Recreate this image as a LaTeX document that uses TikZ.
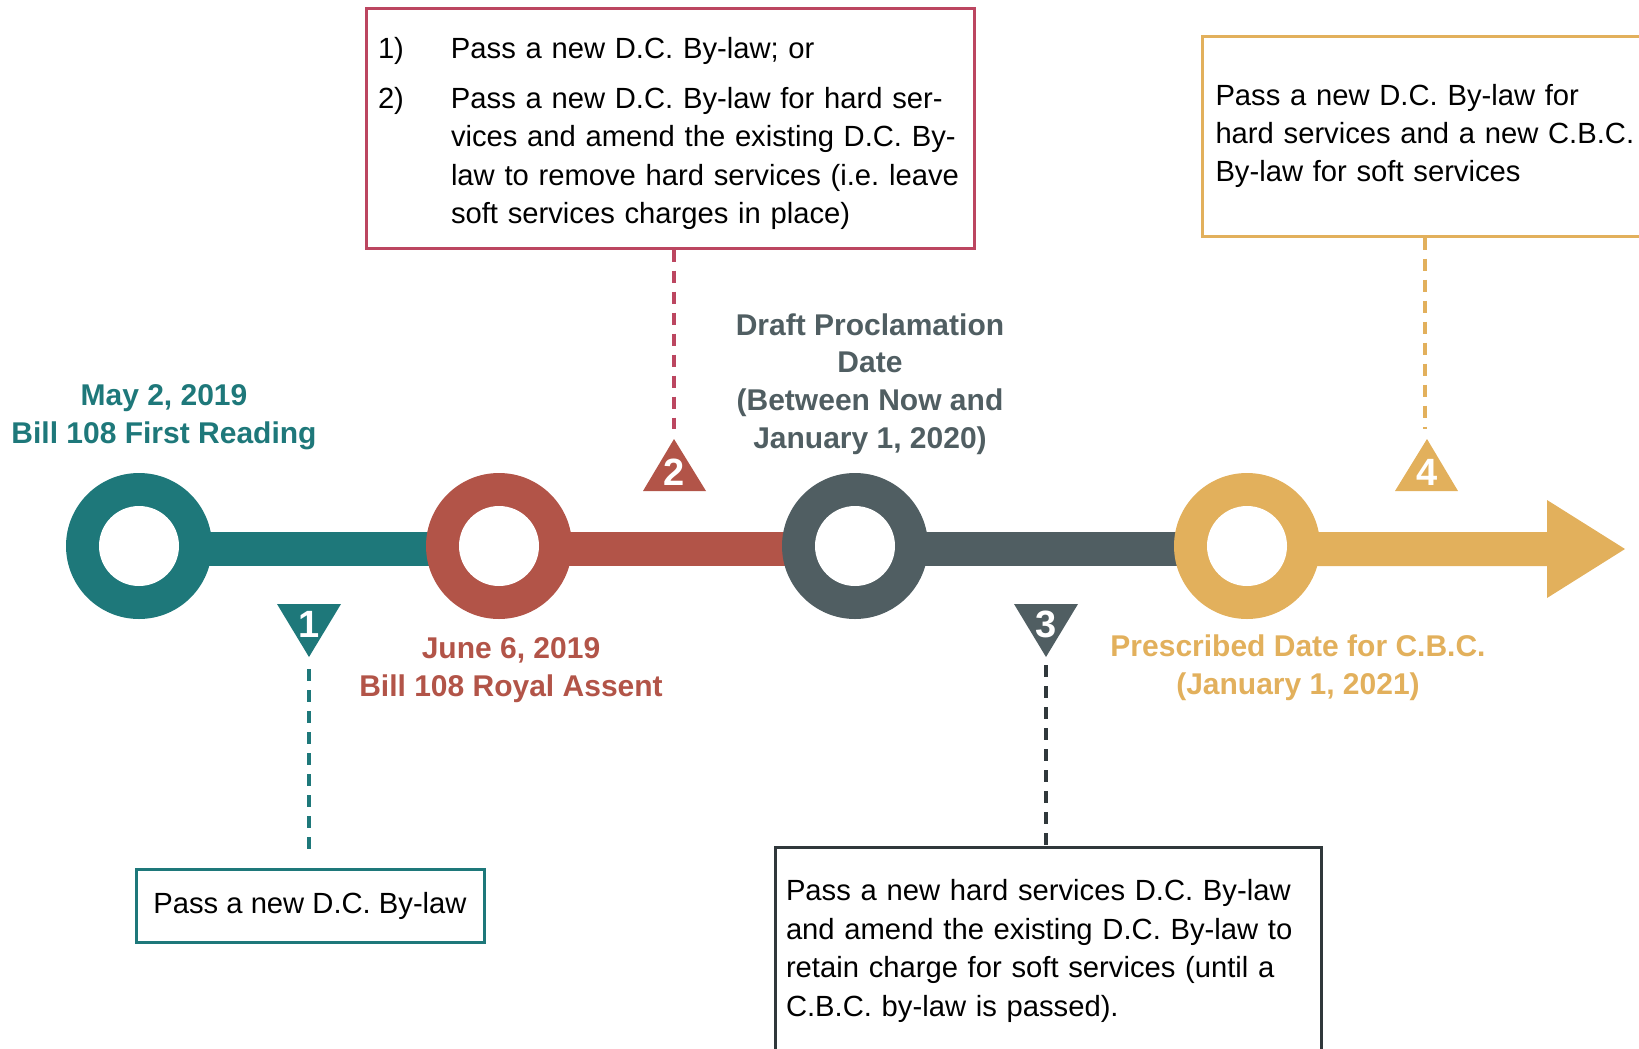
\documentclass[tikz,border=0pt]{standalone}
\usepackage{fontspec}
\setmainfont{Liberation Sans}
\frenchspacing

\definecolor{tealc}{RGB}{30,120,122}
\definecolor{rustc}{RGB}{178,84,72}
\definecolor{slatec}{RGB}{80,94,98}
\definecolor{goldc}{RGB}{226,176,92}
\definecolor{rosec}{RGB}{188,70,96}

\tikzset{
  datelabel/.style={font=\bfseries\fontsize{15}{18.8}\selectfont, align=center},
  stepbox/.style={draw, line width=1.5pt, fill=white, font=\fontsize{14.6}{19.2}\selectfont},
  ring/.style={fill=#1},
  num/.style={text=white, font=\bfseries\fontsize{19}{19}\selectfont, inner sep=0pt},
  lead/.style={line width=2pt, dash pattern=on 6pt off 4.5pt},
}

\begin{document}
\begin{tikzpicture}[x=0.5pt,y=-0.5pt]
  \clip (0,0) rectangle (1639,1049);
  % timeline points
  \coordinate (c1) at (139,546);
  \coordinate (c2) at (499,546);
  \coordinate (c3) at (855,546);
  \coordinate (c4) at (1247,546);
  % timeline bars
  \fill[tealc] (139,532) rectangle (499,566);
  \fill[rustc] (499,532) rectangle (855,566);
  \fill[slatec] (855,532) rectangle (1247,566);
  \fill[goldc] (1247,532) -- (1547,532) -- (1547,500) -- (1625,549)
    -- (1547,598) -- (1547,566) -- (1247,566) -- cycle;
  % May 2, 2019
  \fill[ring=tealc] (c1) circle (73);
  \fill[white] (c1) circle (40);
  \node[datelabel, text=tealc] (l1) at (164,417) {May 2, 2019\\Bill 108 First Reading};
  % June 6, 2019
  \fill[ring=rustc] (c2) circle (73);
  \fill[white] (c2) circle (40);
  \node[datelabel, text=rustc] (l2) at (511,670) {June 6, 2019\\Bill 108 Royal Assent};
  % Draft Proclamation Date
  \fill[ring=slatec] (c3) circle (73);
  \fill[white] (c3) circle (40);
  \node[datelabel, text=slatec] (l3) at (870,384) {Draft Proclamation\\Date\\(Between Now and\\January 1, 2020)};
  % Prescribed Date for C.B.C.
  \fill[ring=goldc] (c4) circle (73);
  \fill[white] (c4) circle (40);
  \node[datelabel, text=goldc] (l4) at (1298,668) {Prescribed Date for C.B.C.\\(January 1, 2021)};

  % step 1
  \fill[tealc] (277,604) -- (341,604) -- (309,657) -- cycle;
  \node[num] (n1) at (309,624) {1};
  \coordinate (t1) at (309,657);
  \node[stepbox, draw=tealc, minimum width=174pt, minimum height=36.5pt] (b1) at (310,906) {Pass a new D.C. By-law};
  \draw[lead, tealc, shorten <=6pt, shorten >=5pt] (t1) -- (t1 |- b1.north);
  % step 2
  \fill[rustc] (643,491) -- (706,491) -- (674,439) -- cycle;
  \node[num] (n2) at (674,472) {2};
  \coordinate (t2) at (674,439);
  \node[stepbox, draw=rosec, text width=292pt, inner xsep=6pt, minimum height=120pt, align=left] (b2) at (670,128)
    {\begin{tabular}{@{}p{36.5pt}@{}l@{}}
      \rule{0pt}{18.8pt}1) & Pass a new D.C. By-law; or\\[5.7pt]
      2) & Pass a new D.C. By-law for hard ser-\\
         & vices and amend the existing D.C. By-\\
         & law to remove hard services (i.e. leave\\
         & soft services charges in place)
    \end{tabular}};
  \draw[lead, rosec, shorten >=5pt] (t2 |- b2.south) -- (t2);
  % step 3
  \fill[slatec] (1014,604) -- (1078,604) -- (1046,657) -- cycle;
  \node[num] (n3) at (1046,624) {3};
  \coordinate (t3) at (1046,657);
  \node[stepbox, draw=slatec!60!black, text width=262pt, inner xsep=5.5pt, minimum height=104pt, align=left] (b3) at (1048,951)
    {Pass a new hard services D.C. By-law\\and amend the existing D.C. By-law to\\retain charge for soft services (until a\\C.B.C. by-law is passed).};
  \draw[lead, slatec!60!black, shorten <=4pt] (t3) -- (t3 |- b3.north);
  % step 4
  \fill[goldc] (1395,491) -- (1458,491) -- (1427,439) -- cycle;
  \node[num] (n4) at (1427,472) {4};
  \coordinate (t4) at (1425,439);
  \node[stepbox, draw=goldc, text width=216pt, inner xsep=6.5pt, minimum height=100pt, align=left, anchor=west] (b4) at (1201,136)
    {Pass a new D.C. By-law for\\hard services and a new C.B.C.\\By-law for soft services};
  \draw[lead, goldc, shorten >=5pt] (t4 |- b4.south) -- (t4);
\end{tikzpicture}
\end{document}
